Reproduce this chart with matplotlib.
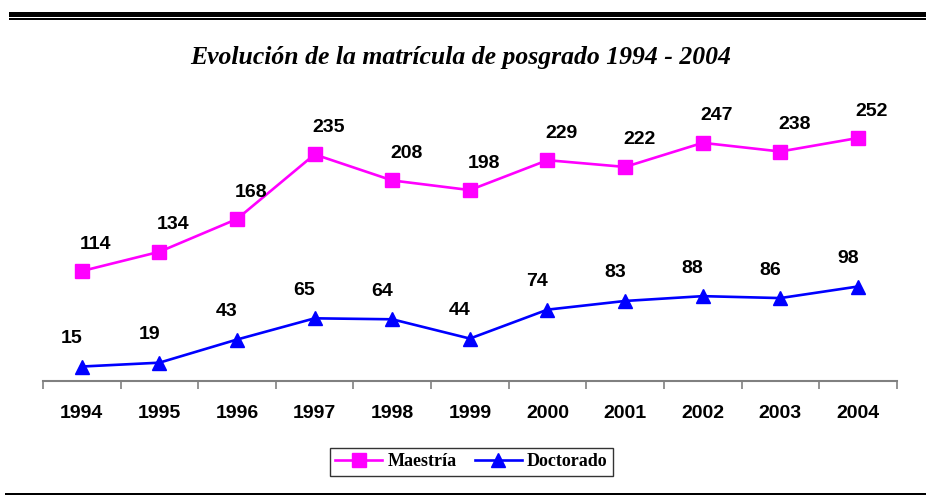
import matplotlib
matplotlib.use("Agg")
import matplotlib.pyplot as plt
from matplotlib.patches import Rectangle

years = ["1994", "1995", "1996", "1997", "1998", "1999", "2000", "2001", "2002", "2003", "2004"]
maestria = [114, 134, 168, 235, 208, 198, 229, 222, 247, 238, 252]
doctorado = [15, 19, 43, 65, 64, 44, 74, 83, 88, 86, 98]

fig = plt.figure(figsize=(9.26, 4.95), dpi=100)
ax = fig.add_axes([0.0464, 0.2303, 0.922, 0.5844])

x = list(range(len(years)))
ax.plot(x, maestria, color="#FF00FF", lw=1.9, marker="s", ms=10, label="Maestría", clip_on=False)
ax.plot(x, doctorado, color="#0000FF", lw=1.9, marker="^", ms=10, label="Doctorado", clip_on=False)

lab_font = dict(family="Liberation Sans", weight="bold", fontsize=14)
for i, v in enumerate(maestria):
    ax.annotate(str(v), (i, v), xytext=(14, 27), textcoords="offset pixels",
                ha="center", va="center", **lab_font)
for i, v in enumerate(doctorado):
    ax.annotate(str(v), (i, v), xytext=(-10, 28), textcoords="offset pixels",
                ha="center", va="center", **lab_font)

ax.set_xlim(-0.5, len(years) - 0.5)
ax.set_ylim(0, 300)
ax.set_xticks([i - 0.5 for i in range(len(years) + 1)])
ax.set_xticklabels([])
ax.set_xticks(x, minor=True)
ax.set_xticklabels(years, minor=True, **lab_font)
ax.tick_params(axis="x", which="major", direction="out", length=6, width=1.2, color="#808080")
ax.tick_params(axis="x", which="minor", length=0, pad=17)
ax.set_yticks([])
for s in ["top", "right", "left"]:
    ax.spines[s].set_visible(False)
ax.spines["bottom"].set_color("#808080")
ax.spines["bottom"].set_linewidth(1.5)
ax.patch.set_visible(False)

fig.text(0.497, 0.883, "Evolución de la matrícula de posgrado 1994 - 2004",
         family="Liberation Serif", weight="bold", style="italic", fontsize=18.5,
         ha="center", va="center")

leg = fig.legend(loc="center", bbox_to_anchor=(0.509, 0.0667), ncol=2, frameon=True,
                 fancybox=False, edgecolor="black", handlelength=2.6, handletextpad=0.3,
                 columnspacing=1.0, borderpad=0.3,
                 prop=dict(family="Liberation Serif", weight="bold", size=13))
leg.get_frame().set_linewidth(1.0)

# decorative rules
H = 495.0
W = 926.0
fig.add_artist(Rectangle((9 / W, 1 - 16.5 / H), 1, 4.5 / H, transform=fig.transFigure,
                         color="black", lw=0))
fig.add_artist(Rectangle((9 / W, 1 - 20 / H), 1, 2 / H, transform=fig.transFigure,
                         color="black", lw=0))
fig.add_artist(Rectangle((5 / W, 0), 1, 1.6 / H, transform=fig.transFigure,
                         color="black", lw=0))

fig.savefig("out.png", dpi=100)
